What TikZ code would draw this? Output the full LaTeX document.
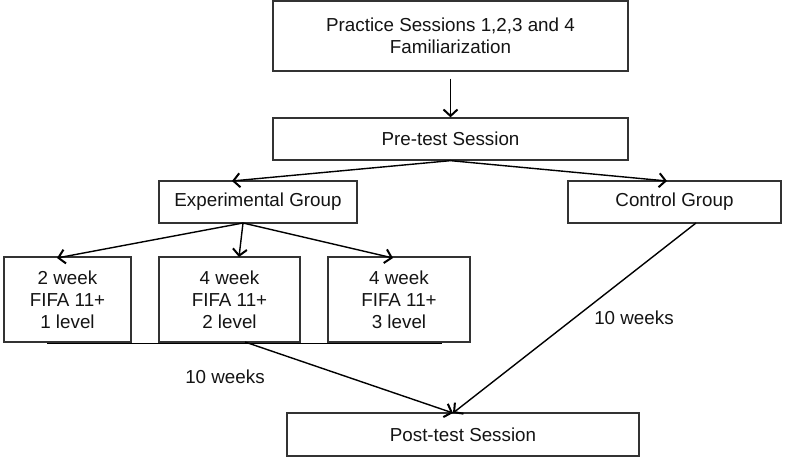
\documentclass[tikz,border=0pt]{standalone}
\usepackage{fontspec}
\setmainfont{Liberation Sans}
\usetikzlibrary{arrows.meta,shadows}
\definecolor{boxline}{HTML}{333333}
\definecolor{txt}{HTML}{141414}
\tikzset{
  box/.style={draw=boxline, line width=1.3pt, fill=white, inner sep=0pt, align=center,
    text=txt, font=\fontsize{18.8}{21.8}\selectfont,
    drop shadow={shadow xshift=1.4pt, shadow yshift=-1.4pt, opacity=0.25, fill=gray}},
  conn/.style={line width=1.4pt, draw=black},
  arr/.style={conn, -{Straight Barb[length=6.5pt,width=14pt,line width=2pt]}},
  lbl/.style={text=txt, font=\fontsize{18.8}{21.8}\selectfont, inner sep=0pt}
}
\begin{document}
\begin{tikzpicture}[x=1pt,y=-1pt]
\useasboundingbox (0,0) rectangle (785,463);
% underline behind the three level boxes
\coordinate (ulA) at (47,343.5);
\coordinate (ulB) at (442,343.5);
\draw[conn] (ulA) -- (ulB);
% nodes
\node[box, minimum width=355pt, minimum height=70pt] (prac) at (450.5,36) {Practice Sessions 1,2,3 and 4\\Familiarization};
\node[box, minimum width=355pt, minimum height=42pt] (pre) at (450.5,139) {Pre-test Session};
\node[box, minimum width=198pt, minimum height=42pt] (exp) at (258,202) {Experimental Group};
\node[box, minimum width=213pt, minimum height=42pt] (ctrl) at (674.5,202) {Control Group};
\node[box, minimum width=127pt, minimum height=85pt] (b1) at (67.5,299.5) {2 week\\FIFA 11+\\1 level};
\node[box, minimum width=141pt, minimum height=85pt] (b2) at (229.5,299.5) {4 week\\FIFA 11+\\2 level};
\node[box, minimum width=142pt, minimum height=85pt] (b3) at (399,299.5) {4 week\\FIFA 11+\\3 level};
\node[box, minimum width=352pt, minimum height=43pt] (post) at (463,434.5) {Post-test Session};
% labels
\node[lbl] (lw1) at (225,377) {10 weeks};
\node[lbl] (lw2) at (634,318) {10 weeks};
% connector end points
\coordinate (expIn) at (232,181);
\coordinate (ctrlIn) at (667,181);
\coordinate (expOut) at (243,223);
\coordinate (b1In) at (57,258);
\coordinate (b2In) at (239,257);
\coordinate (b3In) at (393,258);
\coordinate (b2Out) at (245,342);
\coordinate (ctrlOut) at (696,223);
\coordinate (postIn) at (453,413);
% connectors
\draw[arr] (prac.south) ++(0,7) -- (pre.north);
\draw[arr] (pre.south) -- (expIn);
\draw[arr] (pre.south) -- (ctrlIn);
\draw[arr] (expOut) -- (b1In);
\draw[arr] (expOut) -- (b2In);
\draw[arr] (expOut) -- (b3In);
\draw[arr] (b2Out) -- (postIn);
\draw[arr] (ctrlOut) -- (postIn);
\end{tikzpicture}
\end{document}
